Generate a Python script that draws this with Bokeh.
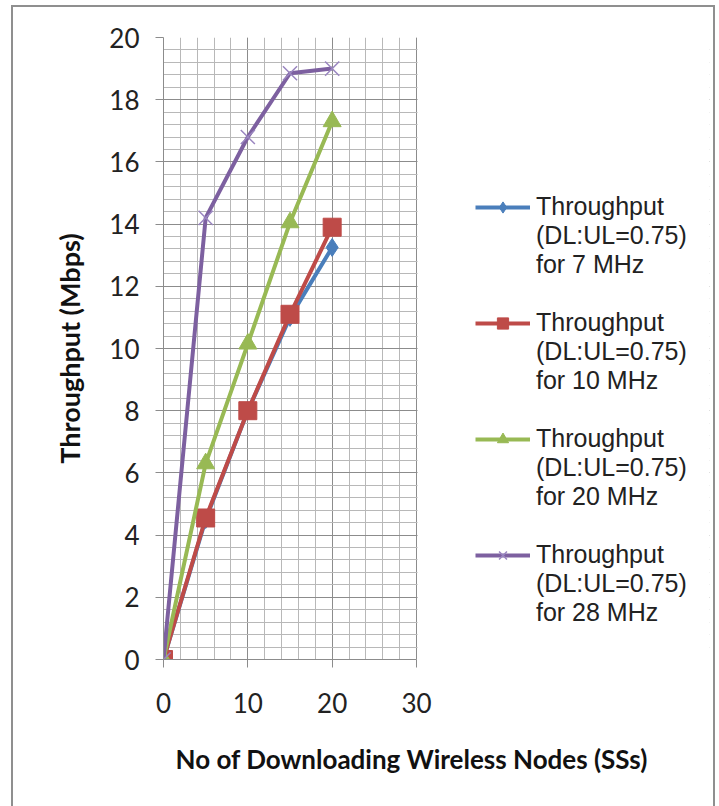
from bokeh.plotting import figure
from bokeh.models import Range1d, SingleIntervalTicker, Legend, LegendItem, Title, BoxAnnotation
from bokeh.embed import file_html
from bokeh.resources import INLINE

nodes = [0, 5, 10, 15, 20]
tp_7mhz = [0, 4.5, 8.0, 11.0, 13.25]
tp_10mhz = [0, 4.55, 8.0, 11.1, 13.9]
tp_20mhz = [0, 6.3, 10.15, 14.05, 17.3]
tp_28mhz = [0, 14.2, 16.8, 18.85, 19.0]

label_head = "Throughput"
label_ratio = "(DL:UL=0.75)"
bandwidths = ["7 MHz", "10 MHz", "20 MHz", "28 MHz"]
x_title = "No of Downloading Wireless Nodes (SSs)"
y_title = "Throughput (Mbps)"
colors = ["#4a7ebb", "#be4b48", "#98b954", "#7d60a0"]
markers = ["diamond", "square", "triangle", "x"]
series = [tp_7mhz, tp_10mhz, tp_20mhz, tp_28mhz]

X_MAX = 30
Y_MAX = 20
FONT = "Lato"
LEGEND_FONT = "Liberation Sans"

# layout: plotting area 253 px wide for 0..30; frame extended to the right to host the legend
W, H = 719, 806
LEFT, RIGHT, TOP, BOTTOM = 163, 10, 37, 147
AXIS_PX = 253
frame_w = W - LEFT - RIGHT
x_end = X_MAX * frame_w / AXIS_PX

p = figure(width=W, height=H, output_backend="svg", toolbar_location=None,
           x_range=Range1d(0, x_end), y_range=Range1d(0, Y_MAX),
           min_border_left=LEFT, min_border_right=RIGHT, min_border_top=TOP, min_border_bottom=BOTTOM)

p.border_fill_alpha = 0
p.background_fill_color = "white"
g = "linear-gradient(#8f8f8f,#8f8f8f)"
p.styles = {
    "background": (f"{g} 11px 5px / 2px 801px no-repeat, "
                   f"{g} 11px 5px / 704px 2px no-repeat, "
                   f"{g} 713px 5px / 2px 801px no-repeat, white"),
}

p.xaxis.ticker = SingleIntervalTicker(interval=10, num_minor_ticks=5)
p.yaxis.ticker = SingleIntervalTicker(interval=2, num_minor_ticks=5)
p.xaxis.bounds = (0, X_MAX)
p.xgrid.bounds = (0, X_MAX)

p.xgrid.grid_line_color = "#8c8c8c"
p.ygrid.grid_line_color = "#8c8c8c"
p.xgrid.minor_grid_line_color = "#b8b8b8"
p.ygrid.minor_grid_line_color = "#b8b8b8"

# blank out the horizontal grid to the right of x = 30
p.add_layout(BoxAnnotation(left=X_MAX + 0.12, fill_color="white", fill_alpha=1,
                           line_color=None, level="underlay"))

for ax in (p.xaxis, p.yaxis):
    ax.axis_line_color = "#8c8c8c"
    ax.major_tick_line_color = "#8c8c8c"
    ax.major_tick_out = 8
    ax.major_tick_in = 0
    ax.minor_tick_line_color = None
    ax.major_label_text_font = FONT
    ax.major_label_text_font_size = "26px"
    ax.major_label_text_color = "#222222"
    ax.axis_label_text_font = FONT
    ax.axis_label_text_font_size = "27px"
    ax.axis_label_text_font_style = "bold"
    ax.axis_label_text_color = "#111111"

p.yaxis.axis_label = y_title
p.xaxis.major_label_standoff = 25
p.yaxis.major_label_standoff = 16
p.yaxis.axis_label_standoff = 20

xt = Title(text=x_title, align="left", offset=12, text_font=FONT, text_font_size="26px",
           text_font_style="bold", text_color="#111111", standoff=50)
p.add_layout(xt, "below")

p.outline_line_color = None

items = []
for i, (ys, c, m, bw) in enumerate(zip(series, colors, markers, bandwidths)):
    ln = p.line(nodes, ys, line_color=c, line_width=4)
    if m == "x":
        sc = p.scatter(nodes, ys, marker="x", size=20, line_color="#9a86c0", line_width=1.5)
    else:
        sc = p.scatter(nodes, ys, marker=m, size=18, fill_color=c, line_color=c)
    blank = p.line([], [], line_alpha=0)
    rest = f"{label_ratio}\nfor {bw}" + ("\n " if i < len(series) - 1 else "")
    items.append(LegendItem(label=label_head, renderers=[ln, sc]))
    items.append(LegendItem(label=rest, renderers=[blank]))

legend = Legend(items=items, location=(312, 32))
legend.label_text_font = LEGEND_FONT
legend.label_text_font_size = "25px"
legend.label_text_color = "#222222"
legend.glyph_width = 55
legend.glyph_height = 28
legend.label_height = 28
legend.spacing = 0
legend.padding = 0
legend.margin = 0
legend.border_line_color = None
legend.background_fill_alpha = 0
legend.label_standoff = 6
p.add_layout(legend, "center")

open("out.html", "w").write(file_html(p, INLINE))
